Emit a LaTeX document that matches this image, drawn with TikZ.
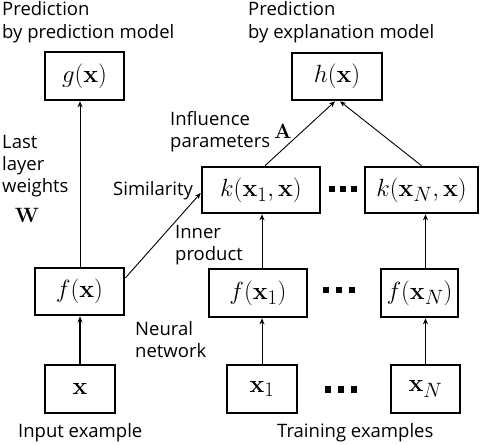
\documentclass[tikz,border=0pt]{standalone}
\usepackage[no-math]{fontspec}
\setmainfont{Open Sans}
\usetikzlibrary{arrows.meta,calc}
\begin{document}
\begin{tikzpicture}[x=1pt,y=-1pt,
  box/.style={draw,line width=2.6pt,rectangle,inner sep=0pt,font=\fontsize{30}{34}\selectfont},
  lbl/.style={anchor=base west,align=left,inner sep=0pt,font=\fontsize{18.5}{22}\selectfont},
  sym/.style={inner sep=0pt,anchor=base,font=\fontsize{21}{24}\selectfont},
  arr/.style={-{Stealth[length=6pt,width=5pt]},line width=0.9pt},
  thickarr/.style={-{Stealth[length=6pt,width=5pt]},line width=1.8pt},
  dotbig/.style={fill,draw=none,inner sep=0pt,minimum size=6.5pt}]
\useasboundingbox (0,0) rectangle (486,444);
% boxes
\node[box,minimum width=79pt,minimum height=48pt] (g) at (84.5,76) {$g(\mathbf{x})$};
\node[box,minimum width=90pt,minimum height=47pt] (h) at (337,76.5) {$h(\mathbf{x})$};
\node[box,minimum width=118pt,minimum height=46pt] (k1) at (261,190) {$k(\mathbf{x}_1,\mathbf{x})$};
\node[box,minimum width=113pt,minimum height=46pt] (kN) at (421.5,190) {$k(\mathbf{x}_N,\mathbf{x})$};
\node[box,minimum width=89pt,minimum height=47pt] (fx) at (79.5,291.5) {$f(\mathbf{x})$};
\node[box,minimum width=98pt,minimum height=48pt] (f1) at (258,293) {$f(\mathbf{x}_1)$};
\node[box,minimum width=77pt,minimum height=48pt] (fN) at (419.5,293) {$f(\mathbf{x}_N)$};
\node[box,minimum width=70pt,minimum height=48pt] (x) at (80,389) {$\mathbf{x}$};
\node[box,minimum width=70pt,minimum height=48pt] (x1) at (262,389) {$\mathbf{x}_1$};
\node[box,minimum width=69pt,minimum height=48pt] (xN) at (425.5,389) {$\mathbf{x}_N$};
% dots
\node[dotbig] (ka) at (332,189) {};
\node[dotbig] (kb) at (343,189) {};
\node[dotbig] (kc) at (354,189) {};
\node[dotbig] (fa) at (326,290) {};
\node[dotbig] (fb) at (339,290) {};
\node[dotbig] (fc) at (352,290) {};
\node[dotbig] (xa) at (328,389.5) {};
\node[dotbig] (xb) at (341,389.5) {};
\node[dotbig] (xc) at (354,389.5) {};
% labels (base = last line)
\node[lbl] (lp) at (2,38) {Prediction\\by prediction model};
\node[lbl] (le) at (248,38) {Prediction\\by explanation model};
\node[lbl] (li) at (170,147) {Influence\\parameters};
\node[sym] (lA) at (283,138) {$\mathbf{A}$};
\node[lbl] (lw) at (2,192) {Last\\layer\\weights};
\node[sym] (lW) at (27,222) {$\mathbf{W}$};
\node[lbl] (ls) at (113,195) {Similarity};
\node[lbl] (lin) at (175,260) {Inner\\product};
\node[lbl] (ln) at (135,357) {Neural\\network};
\node[lbl] (lie) at (18,437) {Input example};
\node[lbl] (lte) at (277,437) {Training examples};
% connectors
\draw[thickarr] (x.north) -- (x.north |- fx.south);
\draw[arr] (x.north |- fx.north) -- (x.north |- g.south);
\draw[arr] ([yshift=13.5pt]fx.east) -- ([yshift=-3pt]k1.west);
\draw[arr] (x1.north) -- (x1.north |- f1.south);
\draw[arr] (x1.north |- f1.north) -- (x1.north |- k1.south);
\draw[arr] (xN.north) -- (xN.north |- fN.south);
\draw[arr] (xN.north |- fN.north) -- (xN.north |- kN.south);
\draw[arr] ([xshift=4pt]k1.north) -- ([xshift=-2pt]h.south);
\draw[arr] (kN.north) -- ([xshift=3pt]h.south);
\end{tikzpicture}
\end{document}
